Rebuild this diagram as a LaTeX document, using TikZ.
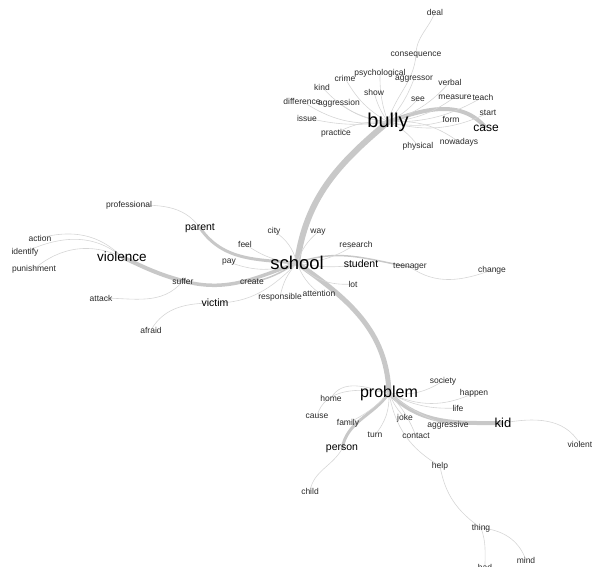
\documentclass[tikz,border=0pt]{standalone}
\usepackage{fontspec}
\setmainfont{Liberation Sans}
\usetikzlibrary{backgrounds}
\definecolor{edgegray}{HTML}{D6D6D6}
\definecolor{trunkgray}{HTML}{C8C8C8}
\definecolor{wordgray}{HTML}{2A2A2A}
\tikzset{
	word/.style={inner sep=0.5pt, text=wordgray, font=\fontsize{8.5}{8.5}\selectfont},
	bword/.style={word, text=black, font=\fontsize{10.5}{10.5}\selectfont},
	hub/.style={word, text=black, font=\fontsize{#1}{#1}\selectfont},
	link/.style={draw=edgegray, line width=0.6pt},
	trunk/.style={draw=trunkgray, line width=#1},
}
\begin{document}
\begin{tikzpicture}[x=1pt,y=1pt]
	\useasboundingbox (0,0) rectangle (592,567);

	% bully
	\node[hub=20] (bully) at (388,445) {bully};
	\node[word] (deal) at (435,555) {deal};
	\node[word] (consequence) at (416,512) {consequence};
	\node[word] (psychological) at (380,494) {psychological};
	\node[word] (aggressor) at (414,488) {aggressor};
	\node[word] (crime) at (345,489) {crime};
	\node[word] (verbal) at (450,485) {verbal};
	\node[word] (kind) at (322,480) {kind};
	\node[word] (show) at (374,475) {show};
	\node[word] (see) at (418,468) {see};
	\node[word] (measure) at (455,470) {measure};
	\node[word] (teach) at (483,470) {teach};
	\node[word] (difference) at (302,466) {difference};
	\node[word] (aggression) at (339,464) {aggression};
	\node[word] (issue) at (307,449) {issue};
	\node[word] (start) at (488,454) {start};
	\node[word] (form) at (451,448) {form};
	\node[hub=12] (case) at (486,439) {case};
	\node[word] (practice) at (336,434) {practice};
	\node[word] (nowadays) at (459,425) {nowadays};
	\node[word] (physical) at (418,421) {physical};

	% school
	\node[hub=18.5] (school) at (297,304) {school};
	\node[word] (professional) at (129,362) {professional};
	\node[bword] (parent) at (200,339) {parent};
	\node[word] (city) at (274,336) {city};
	\node[word] (way) at (318,335) {way};
	\node[word] (feel) at (245,323) {feel};
	\node[word] (research) at (356,323) {research};
	\node[word] (pay) at (229,305) {pay};
	\node[bword] (student) at (361,303) {student};
	\node[word] (teenager) at (410,300) {teenager};
	\node[word] (change) at (492,297) {change};
	\node[word] (create) at (252,285) {create};
	\node[word] (lot) at (353,283) {lot};
	\node[word] (attention) at (319,274) {attention};
	\node[word] (responsible) at (280,270) {responsible};
	\node[bword] (victim) at (215,264) {victim};
	\node[word] (afraid) at (151,237) {afraid};

	% violence
	\node[hub=13.5] (violence) at (122,310) {violence};
	\node[word] (action) at (40,329) {action};
	\node[word] (identify) at (25,315) {identify};
	\node[word] (punishment) at (34,298) {punishment};
	\node[word] (suffer) at (183,286) {suffer};
	\node[word] (attack) at (101,269) {attack};

	% problem
	\node[hub=16] (problem) at (389,174) {problem};
	\node[word] (society) at (443,186) {society};
	\node[word] (home) at (331,169) {home};
	\node[word] (happen) at (474,174) {happen};
	\node[word] (cause) at (317,151) {cause};
	\node[word] (life) at (458,159) {life};
	\node[word] (family) at (348,144) {family};
	\node[word] (joke) at (405,149) {joke};
	\node[word] (aggressive) at (448,142) {aggressive};
	\node[hub=13] (kid) at (503,144) {kid};
	\node[word] (violent) at (580,123) {violent};
	\node[word] (turn) at (375,132) {turn};
	\node[word] (contact) at (416,131) {contact};
	\node[bword] (person) at (342,118) {person};
	\node[word] (help) at (440,101) {help};
	\node[word] (child) at (310,76) {child};
	\node[word] (thing) at (481,39) {thing};
	\node[word] (mind) at (526,7) {mind};
	\node[word] (bad) at (485,0) {bad};

	\begin{scope}[on background layer]
		% stems
		\draw[trunk=6pt] (school.center) to[out=82,in=220] (bully.center);
		\draw[trunk=5pt] (school.center) to[out=-35,in=92] (problem.center);
		\draw[trunk=4pt] (bully.center) to[out=20,in=130] (case.center);
		\draw[trunk=4pt] (violence.center) to[out=-25,in=165] (suffer.center);
		\draw[trunk=3.5pt] (suffer.center) to[out=-15,in=200] (school.center);
		\draw[trunk=3pt] (parent.center) to[out=-55,in=175] (school.center);
		\draw[trunk=4pt] (problem.center) to[out=-45,in=180] (kid.center);
		\draw[trunk=3pt] (problem.center) to[out=-125,in=80] (person.center);
		\draw[trunk=1.5pt] (create.center) to[out=10,in=210] (school.center);
		\draw[trunk=1.5pt] (school.center) to[out=20,in=170] (teenager.center);

		% bully
		\draw[link] (deal.center) to[out=-110,in=90] (consequence.center);
		\draw[link] (consequence.center) to[out=-95,in=75] (bully.center);
		\foreach \w/\b in {psychological/10,aggressor/-10,crime/15,verbal/-15,kind/20,show/10,
			see/-10,measure/-15,teach/-15,difference/20,aggression/15,issue/10,start/-20,
			form/-15,practice/-15,nowadays/20,physical/15}
			\draw[link] (bully.center) to[bend left=\b] (\w.center);

		% school
		\draw[link] (professional.center) to[out=0,in=125] (parent.center);
		\foreach \w/\b in {city/-20,way/15,feel/15,pay/20,research/-15,student/-10,
			lot/-25,attention/-15,responsible/-15}
			\draw[link] (school.center) to[bend left=\b] (\w.center);
		\draw[link] (teenager.center) to[out=-35,in=200] (change.center);
		\draw[link] (victim.center) to[out=0,in=-135] (school.center);
		\draw[link] (afraid.center) to[out=60,in=180] (victim.center);

		% violence
		\draw[link] (action.center) to[out=15,in=135] (violence.center);
		\draw[link] (identify.center) to[out=25,in=140] (violence.center);
		\draw[link] (punishment.center) to[out=40,in=155] (violence.center);
		\draw[link] (attack.center) to[out=0,in=-130] (suffer.center);

		% problem
		\foreach \w/\b in {society/-20,happen/-25,life/-15,aggressive/-10,joke/-10,
			contact/10,turn/20,family/10}
			\draw[link] (problem.center) to[bend left=\b] (\w.center);
		\draw[link] (problem.center) to[out=165,in=60] (home.center);
		\draw[link] (problem.center) to[out=170,in=75] (cause.center);
		\draw[link] (problem.center) to[out=-80,in=150] (help.center);
		\draw[link] (kid.center) to[out=10,in=120] (violent.center);
		\draw[link] (person.center) to[out=-120,in=80] (child.center);
		\draw[link] (help.center) to[out=-80,in=145] (thing.center);
		\draw[link] (thing.center) to[out=-70,in=90] (bad.center);
		\draw[link] (thing.center) to[out=-5,in=110] (mind.center);
	\end{scope}
\end{tikzpicture}
\end{document}
